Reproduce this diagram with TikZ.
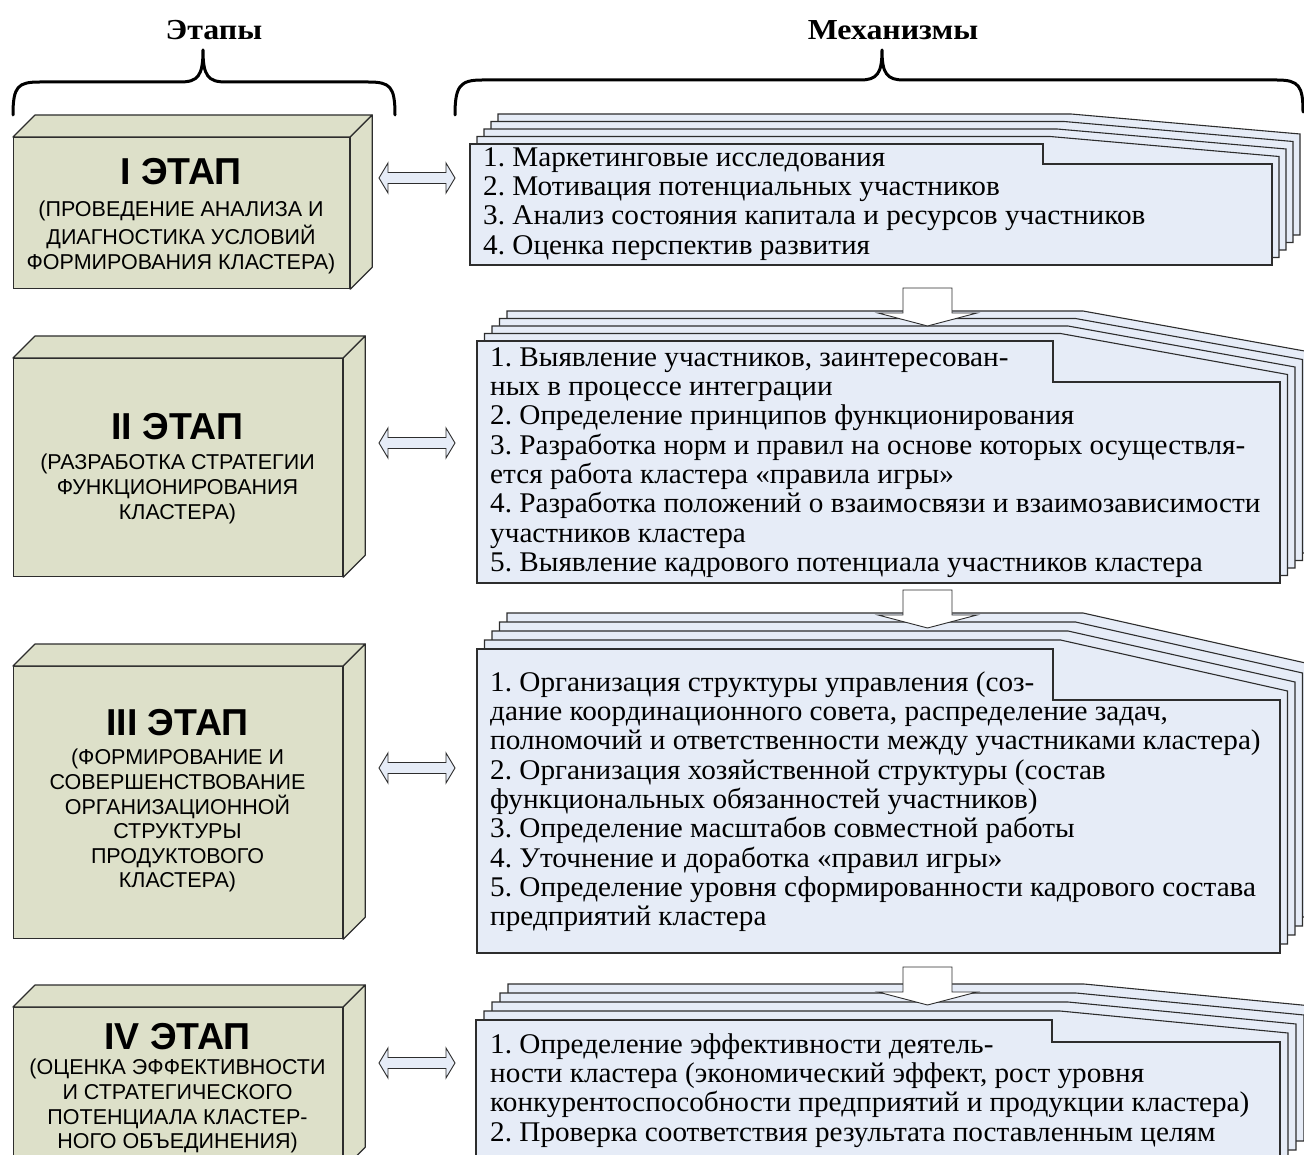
\documentclass[tikz,border=0pt]{standalone}
\usepackage{fontspec}
\setmainfont{Liberation Serif}
\newfontfamily\mechfont[FakeStretch=1.025]{Liberation Serif}
\newfontfamily\headfont[FakeStretch=1.1]{Liberation Serif}
\newfontfamily\boxfont{Liberation Sans}
\usetikzlibrary{calc}
\frenchspacing

\definecolor{pagefill}{RGB}{230,236,247}
\definecolor{boxfill}{RGB}{221,224,201}
\definecolor{edgegray}{RGB}{45,45,45}

\tikzset{
  brace/.style={line width=3pt, line cap=round, line join=round},
  heading/.style={font=\headfont\bfseries\fontsize{29}{32}\selectfont, inner sep=0pt},
  stagebox/.style={draw=edgegray, fill=boxfill, line width=1.2pt, inner sep=0pt},
  stageface/.style={draw=edgegray, fill=boxfill, line width=1.2pt, line join=round},
  stagetitle/.style={font=\boxfont\bfseries\fontsize{37.5}{40}\selectfont, inner sep=0pt},
  stagesub/.style={font=\boxfont\fontsize{21.5}{24.6}\selectfont, align=center, inner sep=0pt, anchor=north},
  pagesheet/.style={draw=edgegray, fill=pagefill, line width=1.1pt, line join=miter},
  mechtext/.style={font=\mechfont\fontsize{28.5}{29.3}\selectfont, align=left, inner sep=0pt, anchor=north west},
  linkarrow/.style={draw=edgegray, fill=pagefill, line width=0.9pt, line join=miter},
  flowarrow/.style={draw=edgegray, fill=white, line width=0.9pt, line join=miter}
}

% stack of sheets: #1 left, #2 top, #3 right, #4 bottom, #5 fold x, #6 fold drop, #7 vertical shift, #8 horizontal shift
\newcommand\mechstack[8]{%
  \foreach \k in {4,3,2,1}{%
    \filldraw[pagesheet] ({#1+\k*#8},{#2-\k*#7}) -- ({#5+\k*#8},{#2-\k*#7})
      -- ({#3+\k*#8},{#2-\k*#7+#6}) -- ({#3+\k*#8},{#4-\k*#7})
      -- ({#1+\k*#8},{#4-\k*#7}) -- cycle;
  }%
  \filldraw[pagesheet] (#1,#2) -- (#5,#2) -- (#5,{#2+#6}) -- (#3,{#2+#6})
    -- (#3,#4) -- (#1,#4) -- cycle;
}

% three-dimensional block on a named front face
\newcommand\blockfaces[1]{%
  \filldraw[stageface] (#1.north west) -- ++(22,-22) -- ($(#1.north east)+(22,-22)$) -- (#1.north east) -- cycle;
  \filldraw[stageface] (#1.north east) -- ++(22,-22) -- ($(#1.south east)+(22,-22)$) -- (#1.south east) -- cycle;
}

% two-headed horizontal arrow between two named points
\newcommand\linkarrow[2]{%
  \filldraw[linkarrow] (#1) -- ($(#1)+(9,-15)$) -- ($(#1)+(9,-5.5)$) -- ($(#2)+(-9,-5.5)$)
    -- ($(#2)+(-9,-15)$) -- (#2) -- ($(#2)+(-9,15)$) -- ($(#2)+(-9,5.5)$)
    -- ($(#1)+(9,5.5)$) -- ($(#1)+(9,15)$) -- cycle;
}

% block arrow pointing down from #1 (top of shaft) to #2 (tip)
\newcommand\flowarrow[2]{%
  \filldraw[flowarrow] ($(#1)+(-24.5,0)$) -- ($(#1)+(24.5,0)$) -- ($(#2)+(24.5,-13)$)
    -- ($(#2)+(49.5,-13)$) -- (#2) -- ($(#2)+(-49.5,-13)$) -- ($(#2)+(-24.5,-13)$) -- cycle;
}

\begin{document}
\begin{tikzpicture}[x=1pt,y=-1pt]
\useasboundingbox (0,0) rectangle (1304,1155);
\clip (0,0) rectangle (1304,1155);

% column headings and braces
\node[heading] (hstages) at (214,30) {Этапы};
\node[heading] (hmech) at (893,30) {Механизмы};
\draw[brace] (13,115) .. controls (13,86) and (18,82) .. (40,82) -- (180,82)
  .. controls (198,82) and (203,76) .. (203,50)
  .. controls (203,76) and (208,82) .. (226,82) -- (368,82)
  .. controls (390,82) and (395,86) .. (395,115);
\draw[brace] (455,115) .. controls (455,86) and (460,80) .. (482,80) -- (860,80)
  .. controls (877,80) and (882,74) .. (882,50)
  .. controls (882,74) and (887,80) .. (904,80) -- (1277,80)
  .. controls (1299,80) and (1303,86) .. (1303,112);

% stage blocks
\node[stagebox, minimum width=336pt, minimum height=151pt, anchor=north west] (b1) at (13,137) {};
\blockfaces{b1}
\node[stagebox, minimum width=329pt, minimum height=218pt, anchor=north west] (b2) at (13,358) {};
\blockfaces{b2}
\node[stagebox, minimum width=329pt, minimum height=272pt, anchor=north west] (b3) at (13,666) {};
\blockfaces{b3}
\node[stagebox, minimum width=329pt, minimum height=161pt, anchor=north west] (b4) at (13,1007) {};
\blockfaces{b4}

\node[stagetitle] (b1t) at (181,172) {I ЭТАП};
\node[stagesub] (b1s) at (181,199.5) {\strut(ПРОВЕДЕНИЕ АНАЛИЗА И\\ДИАГНОСТИКА УСЛОВИЙ\\ФОРМИРОВАНИЯ КЛАСТЕРА)};
\node[stagetitle] (b2t) at (177.5,427) {II ЭТАП};
\node[stagesub] (b2s) at (177.5,452.5) {\strut(РАЗРАБОТКА СТРАТЕГИИ\\ФУНКЦИОНИРОВАНИЯ\\КЛАСТЕРА)};
\node[stagetitle] (b3t) at (177.5,723) {III ЭТАП};
\node[stagesub] (b3s) at (177.5,747.5) {\strut(ФОРМИРОВАНИЕ И\\СОВЕРШЕНСТВОВАНИЕ\\ОРГАНИЗАЦИОННОЙ\\СТРУКТУРЫ\\ПРОДУКТОВОГО\\КЛАСТЕРА)};
\node[stagetitle] (b4t) at (177.5,1037) {IV ЭТАП};
\node[stagesub] (b4s) at (177.5,1057.5) {\strut(ОЦЕНКА ЭФФЕКТИВНОСТИ\\И СТРАТЕГИЧЕСКОГО\\ПОТЕНЦИАЛА КЛАСТЕР-\\НОГО ОБЪЕДИНЕНИЯ)};

% mechanism sheets and their texts
\mechstack{470}{144}{1272}{265}{1043}{20}{7.5}{7}
\node[mechtext] (m1) at (483,145.5) {\strut 1. Маркетинговые исследования\\
2. Мотивация потенциальных участников\\
3. Анализ состояния капитала и ресурсов участников\\
4. Оценка перспектив развития};

\mechstack{477}{341}{1280}{583}{1053}{41}{7.5}{7.5}
\node[mechtext] (m2) at (490,345.5) {\strut 1. Выявление участников, заинтересован-\\
ных в процессе интеграции\\
2. Определение принципов функционирования\\
3. Разработка норм и правил на основе которых осуществля-\\
ется работа кластера «правила игры»\\
4. Разработка положений о взаимосвязи и взаимозависимости\\
участников кластера\\
5. Выявление кадрового потенциала участников кластера};

\mechstack{477}{649}{1280}{953}{1053}{51}{9}{7.5}
\node[mechtext] (m3) at (490,670.5) {\strut 1. Организация структуры управления (соз-\\
дание координационного совета, распределение задач,\\
полномочий и ответственности между участниками кластера)\\
2. Организация хозяйственной структуры (состав\\
функциональных обязанностей участников)\\
3. Определение масштабов совместной работы\\
4. Уточнение и доработка «правил игры»\\
5. Определение уровня сформированности кадрового состава\\
предприятий кластера};

\mechstack{476}{1020}{1280}{1168}{1052}{22}{9}{8}
\node[mechtext] (m4) at (490,1032.5) {\strut 1. Определение эффективности деятель-\\
ности кластера (экономический эффект, рост уровня\\
конкурентоспособности предприятий и продукции кластера)\\
2. Проверка соответствия результата поставленным целям};

% links between stages and mechanisms
\coordinate (l1a) at (379,178);  \coordinate (l1b) at (455,178);
\coordinate (l2a) at (379,443);  \coordinate (l2b) at (455,443);
\coordinate (l3a) at (379,768);  \coordinate (l3b) at (455,768);
\coordinate (l4a) at (379,1063); \coordinate (l4b) at (455,1063);
\linkarrow{l1a}{l1b}
\linkarrow{l2a}{l2b}
\linkarrow{l3a}{l3b}
\linkarrow{l4a}{l4b}

% transitions between mechanism groups
\coordinate (f1a) at (927.5,288); \coordinate (f1b) at (927.5,326);
\coordinate (f2a) at (927.5,590); \coordinate (f2b) at (927.5,628);
\coordinate (f3a) at (927.5,967); \coordinate (f3b) at (927.5,1005);
\flowarrow{f1a}{f1b}
\flowarrow{f2a}{f2b}
\flowarrow{f3a}{f3b}
\end{tikzpicture}
\end{document}
